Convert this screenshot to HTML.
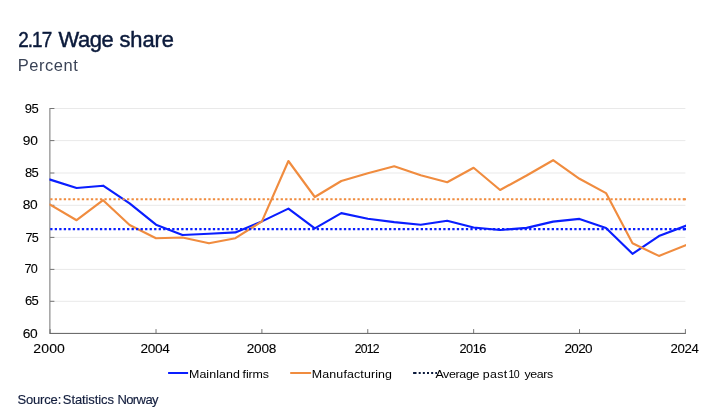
<!DOCTYPE html>
<html lang="en"><head><meta charset="utf-8"><title>2.17 Wage share</title>
<style>
html,body{margin:0;padding:0;background:#fff;}
body{width:722px;height:420px;position:relative;overflow:hidden;font-family:"Liberation Sans",Arial,sans-serif;color:#000;}
.g{position:absolute;left:0;top:0;margin:0;padding:0;font-weight:normal;font-size:13px;}
.w{position:absolute;white-space:pre;line-height:1;display:block;transform-origin:0 0;}
.ti{font-size:21.5px;color:#0b1a3b;-webkit-text-stroke:0.45px #0b1a3b;}
.su{font-size:16px;color:#3a4356;}
.ax{font-size:13px;color:#000;-webkit-text-stroke:0.1px #000;}
.lg{font-size:11.5px;color:#000;}
.sr{font-size:13px;color:#121d3d;-webkit-text-stroke:0.15px #121d3d;}
svg{position:absolute;left:0;top:0;}
</style></head><body>
<svg width="722" height="420" viewBox="0 0 722 420">
<g stroke="#e9e9e9" stroke-width="1"><line x1="50.1" x2="685.4" y1="301.30" y2="301.30"/><line x1="50.1" x2="685.4" y1="269.40" y2="269.40"/><line x1="50.1" x2="685.4" y1="237.40" y2="237.40"/><line x1="50.1" x2="685.4" y1="205.30" y2="205.30"/><line x1="50.1" x2="685.4" y1="173.00" y2="173.00"/><line x1="50.1" x2="685.4" y1="140.60" y2="140.60"/><line x1="50.1" x2="685.4" y1="108.50" y2="108.50"/></g>
<line x1="49.85" x2="49.85" y1="107.9" y2="333.8" stroke="#9a9a9a" stroke-width="1.4"/>
<g stroke="#666" stroke-width="0.9"><line x1="50.1" x2="54.4" y1="301.30" y2="301.30"/><line x1="50.1" x2="54.4" y1="269.40" y2="269.40"/><line x1="50.1" x2="54.4" y1="237.40" y2="237.40"/><line x1="50.1" x2="54.4" y1="205.30" y2="205.30"/><line x1="50.1" x2="54.4" y1="173.00" y2="173.00"/><line x1="50.1" x2="54.4" y1="140.60" y2="140.60"/><line x1="50.1" x2="54.4" y1="108.50" y2="108.50"/><line x1="50.15" x2="50.15" y1="333.3" y2="329.1"/><line x1="156.03" x2="156.03" y1="333.3" y2="329.1"/><line x1="261.90" x2="261.90" y1="333.3" y2="329.1"/><line x1="367.77" x2="367.77" y1="333.3" y2="329.1"/><line x1="473.65" x2="473.65" y1="333.3" y2="329.1"/><line x1="579.52" x2="579.52" y1="333.3" y2="329.1"/><line x1="685.40" x2="685.40" y1="333.3" y2="329.1"/></g>
<line x1="49.65" x2="685.85" y1="333.4" y2="333.4" stroke="#5c5c5c" stroke-width="1"/>
<clipPath id="pc"><rect x="49.4" y="100" width="636.6" height="240"/></clipPath>
<g fill="none" stroke-width="2.15" stroke-linejoin="round" stroke-linecap="square" clip-path="url(#pc)">
<polyline points="50.1,179.6 76.6,188.0 103.1,185.7 129.6,203.4 156.0,224.7 182.5,235.0 209.0,233.7 235.4,232.4 261.9,221.4 288.4,208.6 314.8,228.4 341.3,213.1 367.8,218.7 394.2,222.1 420.7,224.7 447.2,220.8 473.6,227.5 500.1,230.0 526.6,227.9 553.1,221.6 579.5,218.9 606.0,227.9 632.5,253.8 658.9,236.1 685.4,226.0" stroke="#0a1eff"/>
<polyline points="50.1,204.7 76.6,220.2 103.1,200.2 129.6,225.0 156.0,238.2 182.5,237.5 209.0,243.3 235.4,238.2 261.9,221.4 288.4,161.0 314.8,197.0 341.3,181.0 367.8,173.2 394.2,166.3 420.7,175.3 447.2,182.2 473.6,167.8 500.1,190.0 526.6,175.5 553.1,160.2 579.5,178.8 606.0,193.1 632.5,243.3 658.9,255.9 685.4,245.3" stroke="#f08c3f"/>
<line x1="50.2" x2="688" y1="199.2" y2="199.2" stroke="#f08c3f" stroke-dasharray="2.3 2.218" stroke-linecap="butt"/>
<line x1="683" x2="688" y1="199.2" y2="199.2" stroke="#f08c3f" stroke-linecap="butt"/>
<line x1="50.2" x2="688" y1="229.15" y2="229.15" stroke="#0a1eff" stroke-dasharray="2.3 2.218" stroke-linecap="butt"/>
<line x1="683" x2="688" y1="229.15" y2="229.15" stroke="#0a1eff" stroke-linecap="butt"/>
</g>
<g fill="none" stroke-width="2">
<line x1="168.1" x2="188.1" y1="373" y2="373" stroke="#0a1eff"/>
<line x1="290.2" x2="311.1" y1="373" y2="373" stroke="#f08c3f"/>
<line x1="413.1" x2="437" y1="373" y2="373" stroke="#0b1a3b" stroke-dasharray="3.4 2.2 2 2.15 2 2.15 2 2.15 2 2.15 2 9"/>
</g>
</svg>
<h1 class="g"><span class="w ti" style="left:18px;top:30px;letter-spacing:-1.06px;transform:translateX(0.17px) scaleX(0.88)">2.17</span> <span class="w ti" style="left:58px;top:30px;letter-spacing:-0.34px;transform:translateX(0.38px) scaleX(1.02)">Wage</span> <span class="w ti" style="left:119px;top:30px;letter-spacing:-0.08px;transform:translateX(0.43px) scaleX(1.02)">share</span></h1>
<p class="g"><span class="w su" style="left:17px;top:58px;letter-spacing:0.56px;transform:translateX(0.66px) scaleX(1.03)">Percent</span></p>
<div class="g"><span class="w ax" style="left:24px;top:102px;letter-spacing:-0.36px;transform:translateX(0.64px) scaleX(1)">95</span> <span class="w ax" style="left:22px;top:134px;letter-spacing:-0.17px;transform:translateX(0.66px) scaleX(1.06)">90</span> <span class="w ax" style="left:24px;top:166px;letter-spacing:-0.60px;transform:translateX(0.89px) scaleX(1)">85</span> <span class="w ax" style="left:22px;top:198px;letter-spacing:-0.29px;transform:translateX(0.75px) scaleX(1.06)">80</span> <span class="w ax" style="left:25px;top:231px;letter-spacing:-0.80px;transform:translateX(0.54px) scaleX(0.97)">75</span> <span class="w ax" style="left:24px;top:262px;letter-spacing:-1.00px;transform:translateX(0.59px) scaleX(0.97)">70</span> <span class="w ax" style="left:24px;top:294px;letter-spacing:-0.67px;transform:translateX(0.95px) scaleX(1)">65</span> <span class="w ax" style="left:22px;top:327px;letter-spacing:-0.33px;transform:translateX(0.74px) scaleX(1.06)">60</span></div>
<div class="g"><span class="w ax" style="left:33px;top:342px;letter-spacing:0.07px;transform:translateX(0.37px) scaleX(1.08)">2000</span> <span class="w ax" style="left:140px;top:342px;letter-spacing:-0.34px;transform:translateX(0.60px) scaleX(1.05)">2004</span> <span class="w ax" style="left:246px;top:342px;letter-spacing:-0.21px;transform:translateX(0.69px) scaleX(1.05)">2008</span> <span class="w ax" style="left:354px;top:342px;letter-spacing:-0.77px;transform:translateX(0.65px) scaleX(0.94)">2012</span> <span class="w ax" style="left:459px;top:342px;letter-spacing:-0.51px;transform:translateX(0.52px) scaleX(0.98)">2016</span> <span class="w ax" style="left:564px;top:342px;letter-spacing:-0.64px;transform:translateX(0.46px) scaleX(1.04)">2020</span> <span class="w ax" style="left:670px;top:342px;letter-spacing:-0.36px;transform:translateX(0.60px) scaleX(1.02)">2024</span></div>
<div class="g"><div class="g"><span class="w lg" style="left:188px;top:369px;letter-spacing:0.06px;transform:translateX(0.99px) scaleX(1.08)">Mainland</span> <span class="w lg" style="left:242px;top:369px;letter-spacing:-0.10px;transform:translateX(0.56px) scaleX(1.08)">firms</span></div> <div class="g"><span class="w lg" style="left:311px;top:369px;letter-spacing:0.11px;transform:translateX(0.85px) scaleX(1.08)">Manufacturing</span></div> <div class="g"><span class="w lg" style="left:435px;top:369px;letter-spacing:-0.32px;transform:translateX(0.40px) scaleX(1.08)">Average</span> <span class="w lg" style="left:482px;top:369px;letter-spacing:0.23px;transform:translateX(0.86px) scaleX(1.08)">past</span> <span class="w lg" style="left:508px;top:369px;letter-spacing:-0.72px;transform:translateX(0.61px) scaleX(0.92)">10</span> <span class="w lg" style="left:524px;top:369px;letter-spacing:-0.37px;transform:translateX(0.39px) scaleX(1.08)">years</span></div></div>
<p class="g"><span class="w sr" style="left:17px;top:393px;letter-spacing:-0.17px;transform:translateX(0.46px) scaleX(1)">Source:</span> <span class="w sr" style="left:62px;top:393px;letter-spacing:-0.10px;transform:translateX(0.82px) scaleX(1)">Statistics</span> <span class="w sr" style="left:117px;top:393px;letter-spacing:-0.58px;transform:translateX(0.39px) scaleX(1)">Norway</span></p>
</body></html>
